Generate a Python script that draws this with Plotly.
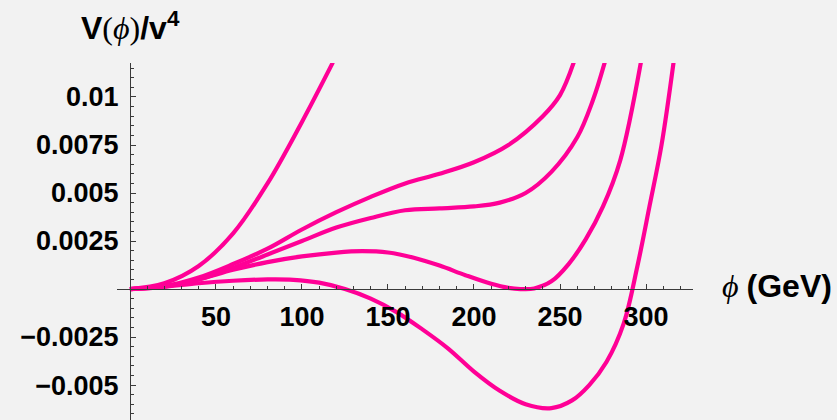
import plotly.graph_objects as go

# Field value phi (GeV) and scaled potential V(phi)/v^4 for five parameter choices
phi_a = [0, 20, 40, 60, 80, 100, 118]
v_a = [0, 0.0003, 0.0012, 0.0029, 0.0055, 0.0087, 0.0118]

phi_b = [0, 20, 40, 60, 80, 100, 120, 140, 160, 180, 200, 220, 240, 250, 258]
v_b = [0, 0.00015, 0.0006, 0.0013, 0.0021, 0.0031, 0.0040, 0.0048, 0.0055, 0.0060, 0.0066, 0.0075, 0.0090, 0.0101, 0.0118]

phi_c = [0, 20, 40, 60, 80, 100, 120, 140, 160, 180, 200, 215, 230, 245, 260, 269, 276]
v_c = [0, 0.00013, 0.0005, 0.0011, 0.0018, 0.0025, 0.0032, 0.0037, 0.0041, 0.0042, 0.0043, 0.0045, 0.0050, 0.0061, 0.0079, 0.0098, 0.0118]

phi_d = [0, 20, 40, 60, 80, 100, 120, 135, 150, 165, 180, 195, 210, 220, 227, 235, 245, 255, 265, 275, 285, 297]
v_d = [0, 0.00012, 0.0005, 0.0010, 0.0014, 0.0017, 0.0019, 0.00197, 0.0019, 0.00163, 0.00122, 0.00072, 0.00027, 0.00006, 0.0, 0.00003, 0.0004, 0.0013, 0.0026, 0.0043, 0.0067, 0.0118]

phi_e = [0, 20, 40, 60, 80, 95, 110, 125, 140, 155, 170, 185, 200, 215, 230, 245, 257, 267, 277, 287, 295, 302, 309, 316]
v_e = [0, 0.00012, 0.0003, 0.00043, 0.0005, 0.00048, 0.00033, 0.0, -0.0005, -0.0012, -0.0021, -0.0031, -0.0043, -0.0053, -0.0060, -0.0062, -0.0058, -0.0050, -0.0038, -0.0018, 0.0012, 0.0043, 0.0075, 0.0118]

x_ticks = [50, 100, 150, 200, 250, 300]
x_minor = list(range(10, 330, 10))
y_ticks = [-0.005, -0.0025, 0.0025, 0.005, 0.0075, 0.01]
y_tick_text = ["\u22120.005", "\u22120.0025", "0.0025", "0.005", "0.0075", "0.01"]
y_minor = [round(-0.0065 + 0.0005 * i, 4) for i in range(37)]

x_range = [-7.5, 327.3]
y_range = [-0.00682, 0.01177]

W, H = 837, 420
L, R, T, B = 117, 693, 63, 420  # plot-area edges in pixels

curve_color = "#FF0096"
bg = "#F2F2F2"
axis_color = "#3a3a3a"

fig = go.Figure()
for xs, ys in [(phi_a, v_a), (phi_b, v_b), (phi_c, v_c), (phi_d, v_d), (phi_e, v_e)]:
    fig.add_trace(go.Scatter(
        x=xs, y=ys, mode="lines",
        line=dict(color=curve_color, width=4.2, shape="spline", smoothing=1.0),
        hoverinfo="skip", showlegend=False,
    ))

x_pos = (0 - y_range[0]) / (y_range[1] - y_range[0])
y_pos = (0 - x_range[0]) / (x_range[1] - x_range[0])

tick_font = dict(family="Liberation Sans, Arial, sans-serif", size=27, color="black", weight="bold")

fig.update_layout(
    width=W, height=H,
    margin=dict(l=L, r=W - R, t=T, b=H - B, pad=0),
    paper_bgcolor=bg, plot_bgcolor=bg,
    showlegend=False,
    xaxis=dict(
        range=x_range, anchor="free", position=x_pos,
        showgrid=False, zeroline=False,
        showline=True, linecolor=axis_color, linewidth=1,
        ticks="inside", ticklen=5, tickwidth=1, tickcolor=axis_color,
        tickmode="array", tickvals=x_ticks, ticktext=[str(v) for v in x_ticks],
        tickfont=tick_font, ticklabelstandoff=4,
        minor=dict(tickmode="array", tickvals=x_minor, ticks="inside", ticklen=3,
                   tickwidth=1, tickcolor=axis_color, showgrid=False),
    ),
    yaxis=dict(
        range=y_range, anchor="free", position=y_pos,
        showgrid=False, zeroline=False,
        showline=True, linecolor=axis_color, linewidth=1,
        ticks="inside", ticklen=5, tickwidth=1, tickcolor=axis_color,
        tickmode="array", tickvals=y_ticks, ticktext=y_tick_text,
        tickfont=tick_font, ticklabelstandoff=6,
        minor=dict(tickmode="array", tickvals=y_minor, ticks="inside", ticklen=3,
                   tickwidth=1, tickcolor=axis_color, showgrid=False),
    ),
)


def px_to_paper(px, py):
    return (px - L) / (R - L), (B - py) / (B - T)


sans = "Liberation Sans, Arial, sans-serif"
serif = "Liberation Serif, Times New Roman, serif"

ax, ay = px_to_paper(79, 26)
fig.add_annotation(
    xref="paper", yref="paper", x=ax, y=ay, xanchor="left", yanchor="middle",
    showarrow=False,
    text=("<b>V</b><span style='font-family:" + serif + "'>(<i>\u03d5</i>)</span>"
          "<b>/v<sup>4</sup></b>"),
    font=dict(family=sans, size=32, color="black"),
)

bx, by = px_to_paper(720, 286)
fig.add_annotation(
    xref="paper", yref="paper", x=bx, y=by, xanchor="left", yanchor="middle",
    showarrow=False,
    text="<span style='font-family:" + serif + "'><i>\u03d5</i> </span><b>(GeV)</b>",
    font=dict(family=sans, size=32, color="black"),
)

fig.write_html("out.html")
